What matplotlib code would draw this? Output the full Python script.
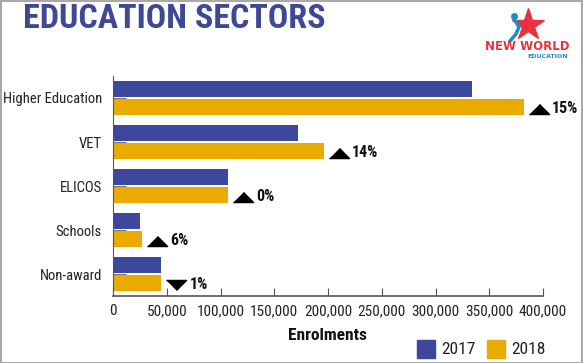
import matplotlib
matplotlib.use("Agg")
from matplotlib import pyplot as plt
from matplotlib.lines import Line2D
from matplotlib.patches import Rectangle
from matplotlib.transforms import offset_copy

sectors = ["Higher Education", "VET", "ELICOS", "Schools", "Non-award"]
enrol_2017 = [334000, 172000, 107000, 25000, 45000]
enrol_2018 = [382000, 196000, 107000, 27000, 45000]
change = ["15%", "14%", "0%", "6%", "1%"]
going_up = [True, True, True, True, False]
xticks = [0, 50000, 100000, 150000, 200000, 250000, 300000, 350000, 400000]

BLUE = "#3d479c"
GOLD = "#e9ab00"
NARROW = ["Roboto Condensed", "DejaVu Sans"]
plt.rcParams["font.stretch"] = "condensed"

W, H = 583, 363
fig = plt.figure(figsize=(W / 100, H / 100), dpi=100)
ax = fig.add_axes([113 / W, (H - 296) / H, 430 / W, 220 / H])

y = list(range(len(sectors)))
ax.barh([i - 0.2 for i in y], enrol_2017, height=0.36, color=BLUE)
ax.barh([i + 0.2 for i in y], enrol_2018, height=0.36, color=GOLD)

ax.set_xlim(0, 400000)
ax.set_ylim(4.5, -0.5)
ax.set_xticks(xticks)
ax.set_xticklabels([f"{v:,}" for v in xticks], family=NARROW, fontsize=11,
                   stretch="condensed", color="#222")
ax.set_yticks(y)
ax.set_yticklabels(sectors, family=NARROW, fontsize=10.5, stretch="condensed", color="#222")
ax.tick_params(axis="x", direction="in", length=6, color="#555", pad=6)
ax.tick_params(axis="y", direction="in", length=9, color="#777", pad=8)
for s in ["top", "right"]:
    ax.spines[s].set_visible(False)
ax.spines["left"].set_color("#555")
ax.spines["bottom"].set_color("#555")
ax.spines["bottom"].set_linewidth(1.2)

# change markers next to 2018 bars
tri_up = [(-1, -0.5), (1, -0.5), (0, 0.5)]
tri_dn = [(-1, 0.5), (1, 0.5), (0, -0.5)]
mk_tr = offset_copy(ax.transData, fig=fig, x=15, y=-2, units="dots")
tx_tr = offset_copy(ax.transData, fig=fig, x=28, y=-2, units="dots")
for i in y:
    ax.plot(enrol_2018[i], i + 0.2, marker=tri_up if going_up[i] else tri_dn,
            markersize=14.5, color="black", transform=mk_tr, clip_on=False)
    ax.text(enrol_2018[i], i + 0.2, change[i], transform=tx_tr, va="center",
            ha="left", family=NARROW, stretch="condensed", fontsize=11.5,
            fontweight="bold", color="#111")

fig.text(327 / W, 1 - 336 / H, "Enrolments", ha="center", va="center",
         family=NARROW, stretch="condensed", fontsize=12.5, fontweight="bold", color="#111")

# legend
for x0, lab, col in [(417, "2017", BLUE), (487, "2018", GOLD)]:
    fig.add_artist(Rectangle((x0 / W, 1 - 358 / H), 18 / W, 18 / H,
                             transform=fig.transFigure, color=col))
    fig.text((x0 + 24) / W, 1 - 350 / H, lab, ha="left", va="center",
             family=NARROW, stretch="condensed", fontsize=12.5, color="#222")

fig.text(23 / W, 1 - 19 / H, "EDUCATION SECTORS", ha="left", va="center",
         family=NARROW, stretch="condensed", fontsize=24.5, fontweight="bold",
         color="#3d4897")

# logo
fig.add_artist(Line2D([528 / W], [1 - 25 / H], marker="*", markersize=24,
                      color="#e8333f", transform=fig.transFigure))
fig.add_artist(Line2D([514 / W, 519 / W, 516 / W, 510 / W],
                      [1 - 19 / H, 1 - 27 / H, 1 - 34 / H, 1 - 41 / H],
                      color="#1a8fc4", lw=2.5, transform=fig.transFigure))
fig.add_artist(Line2D([514 / W], [1 - 16 / H], marker="o", markersize=4,
                      color="#1a8fc4", transform=fig.transFigure))
fig.text(527 / W, 1 - 46.5 / H, "NEW WORLD", ha="center", va="center",
         family="DejaVu Sans", stretch="normal", fontsize=8.5, fontweight="bold",
         color="#e8333f")
fig.text(568 / W, 1 - 56 / H, "EDUCATION", ha="right", va="center",
         family="DejaVu Sans", stretch="normal", fontsize=4.5, fontweight="bold",
         color="#1a8fc4")

# frame
fig.add_artist(Rectangle((0.5 / W, 0.5 / H), (W - 1.5) / W, (H - 1.5) / H,
                         transform=fig.transFigure, fill=False,
                         edgecolor="#aaaaaa", lw=1.5))

fig.savefig("out.png", dpi=100)
